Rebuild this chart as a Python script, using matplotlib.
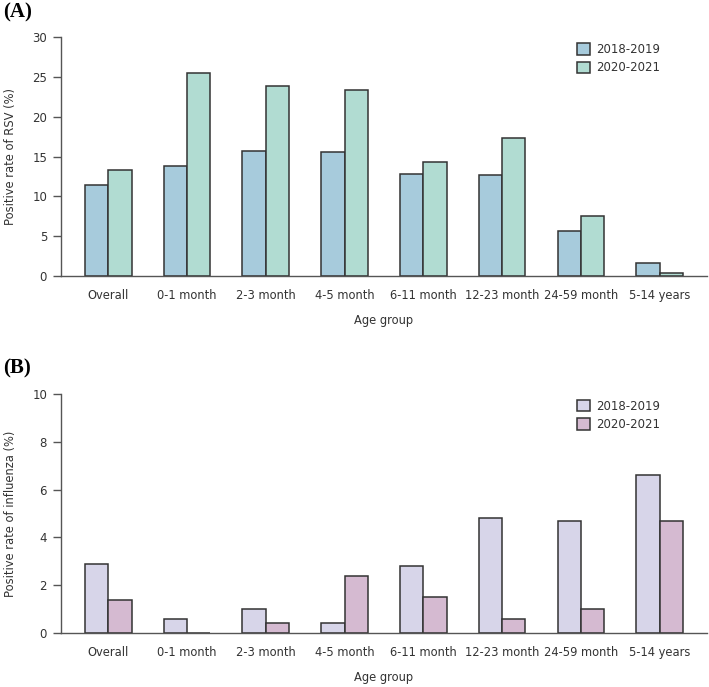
import matplotlib
matplotlib.use("Agg")
import matplotlib.pyplot as plt
import numpy as np

categories = ["Overall", "0-1 month", "2-3 month", "4-5 month", "6-11 month",
              "12-23 month", "24-59 month", "5-14 years"]
seasons = ["2018-2019", "2020-2021"]
rsv_2018 = [11.4, 13.8, 15.7, 15.6, 12.8, 12.7, 5.7, 1.7]
rsv_2020 = [13.3, 25.5, 23.9, 23.3, 14.3, 17.3, 7.6, 0.35]
flu_2018 = [2.9, 0.6, 1.0, 0.4, 2.8, 4.8, 4.7, 6.6]
flu_2020 = [1.4, 0.0, 0.4, 2.4, 1.5, 0.6, 1.0, 4.7]

plt.rcParams['font.family'] = ['DejaVu Sans']
txt = "#333333"
spine_c = "#555555"

fig = plt.figure(figsize=(7.09, 6.87), dpi=100)
axA = fig.add_axes([0.086, 0.598, 0.911, 0.348])
axB = fig.add_axes([0.086, 0.0786, 0.911, 0.348])

def draw(ax, a, b, colors, ylim, yticks, ylabel):
    x = np.arange(len(categories))
    w = 0.296
    ax.bar(x - w/2, a, w, color=colors[0], edgecolor="#333333", linewidth=1.1, label=seasons[0])
    ax.bar(x + w/2, b, w, color=colors[1], edgecolor="#333333", linewidth=1.1, label=seasons[1])
    ax.set_xlim(-0.6, 7.6)
    ax.set_ylim(*ylim)
    ax.set_yticks(yticks)
    ax.set_xticks(x)
    ax.set_xticklabels(categories)
    ax.tick_params(axis='x', length=0, pad=9, labelsize=8.3, colors=txt)
    ax.tick_params(axis='y', length=6, width=1, color=spine_c, labelsize=8.5, labelcolor=txt, pad=4)
    for s in ["top", "right"]:
        ax.spines[s].set_visible(False)
    for s in ["left", "bottom"]:
        ax.spines[s].set_color(spine_c)
        ax.spines[s].set_linewidth(1.0)
    ax.set_ylabel(ylabel, fontsize=8.3, color=txt, labelpad=11)
    ax.set_xlabel("Age group", fontsize=8.3, color=txt, labelpad=9)
    ax.legend(loc="upper left", bbox_to_anchor=(0.783, 1.02), frameon=False, fontsize=8.5,
              handlelength=1.05, handleheight=1.1, handletextpad=0.5, labelspacing=0.45,
              labelcolor=txt)

draw(axA, rsv_2018, rsv_2020, ["#a7cbdc", "#b1dcd2"], (0, 30), [0, 5, 10, 15, 20, 25, 30],
     "Positive rate of RSV (%)")
draw(axB, flu_2018, flu_2020, ["#d7d5e9", "#d5bad1"], (0, 10), [0, 2, 4, 6, 8, 10],
     "Positive rate of influenza (%)")

fig.text(0.005, 0.997, "(A)", fontsize=15, fontweight="bold", family="Liberation Serif", va="top", ha="left")
fig.text(0.005, 0.478, "(B)", fontsize=15, fontweight="bold", family="Liberation Serif", va="top", ha="left")

fig.savefig("out.png", dpi=100)
